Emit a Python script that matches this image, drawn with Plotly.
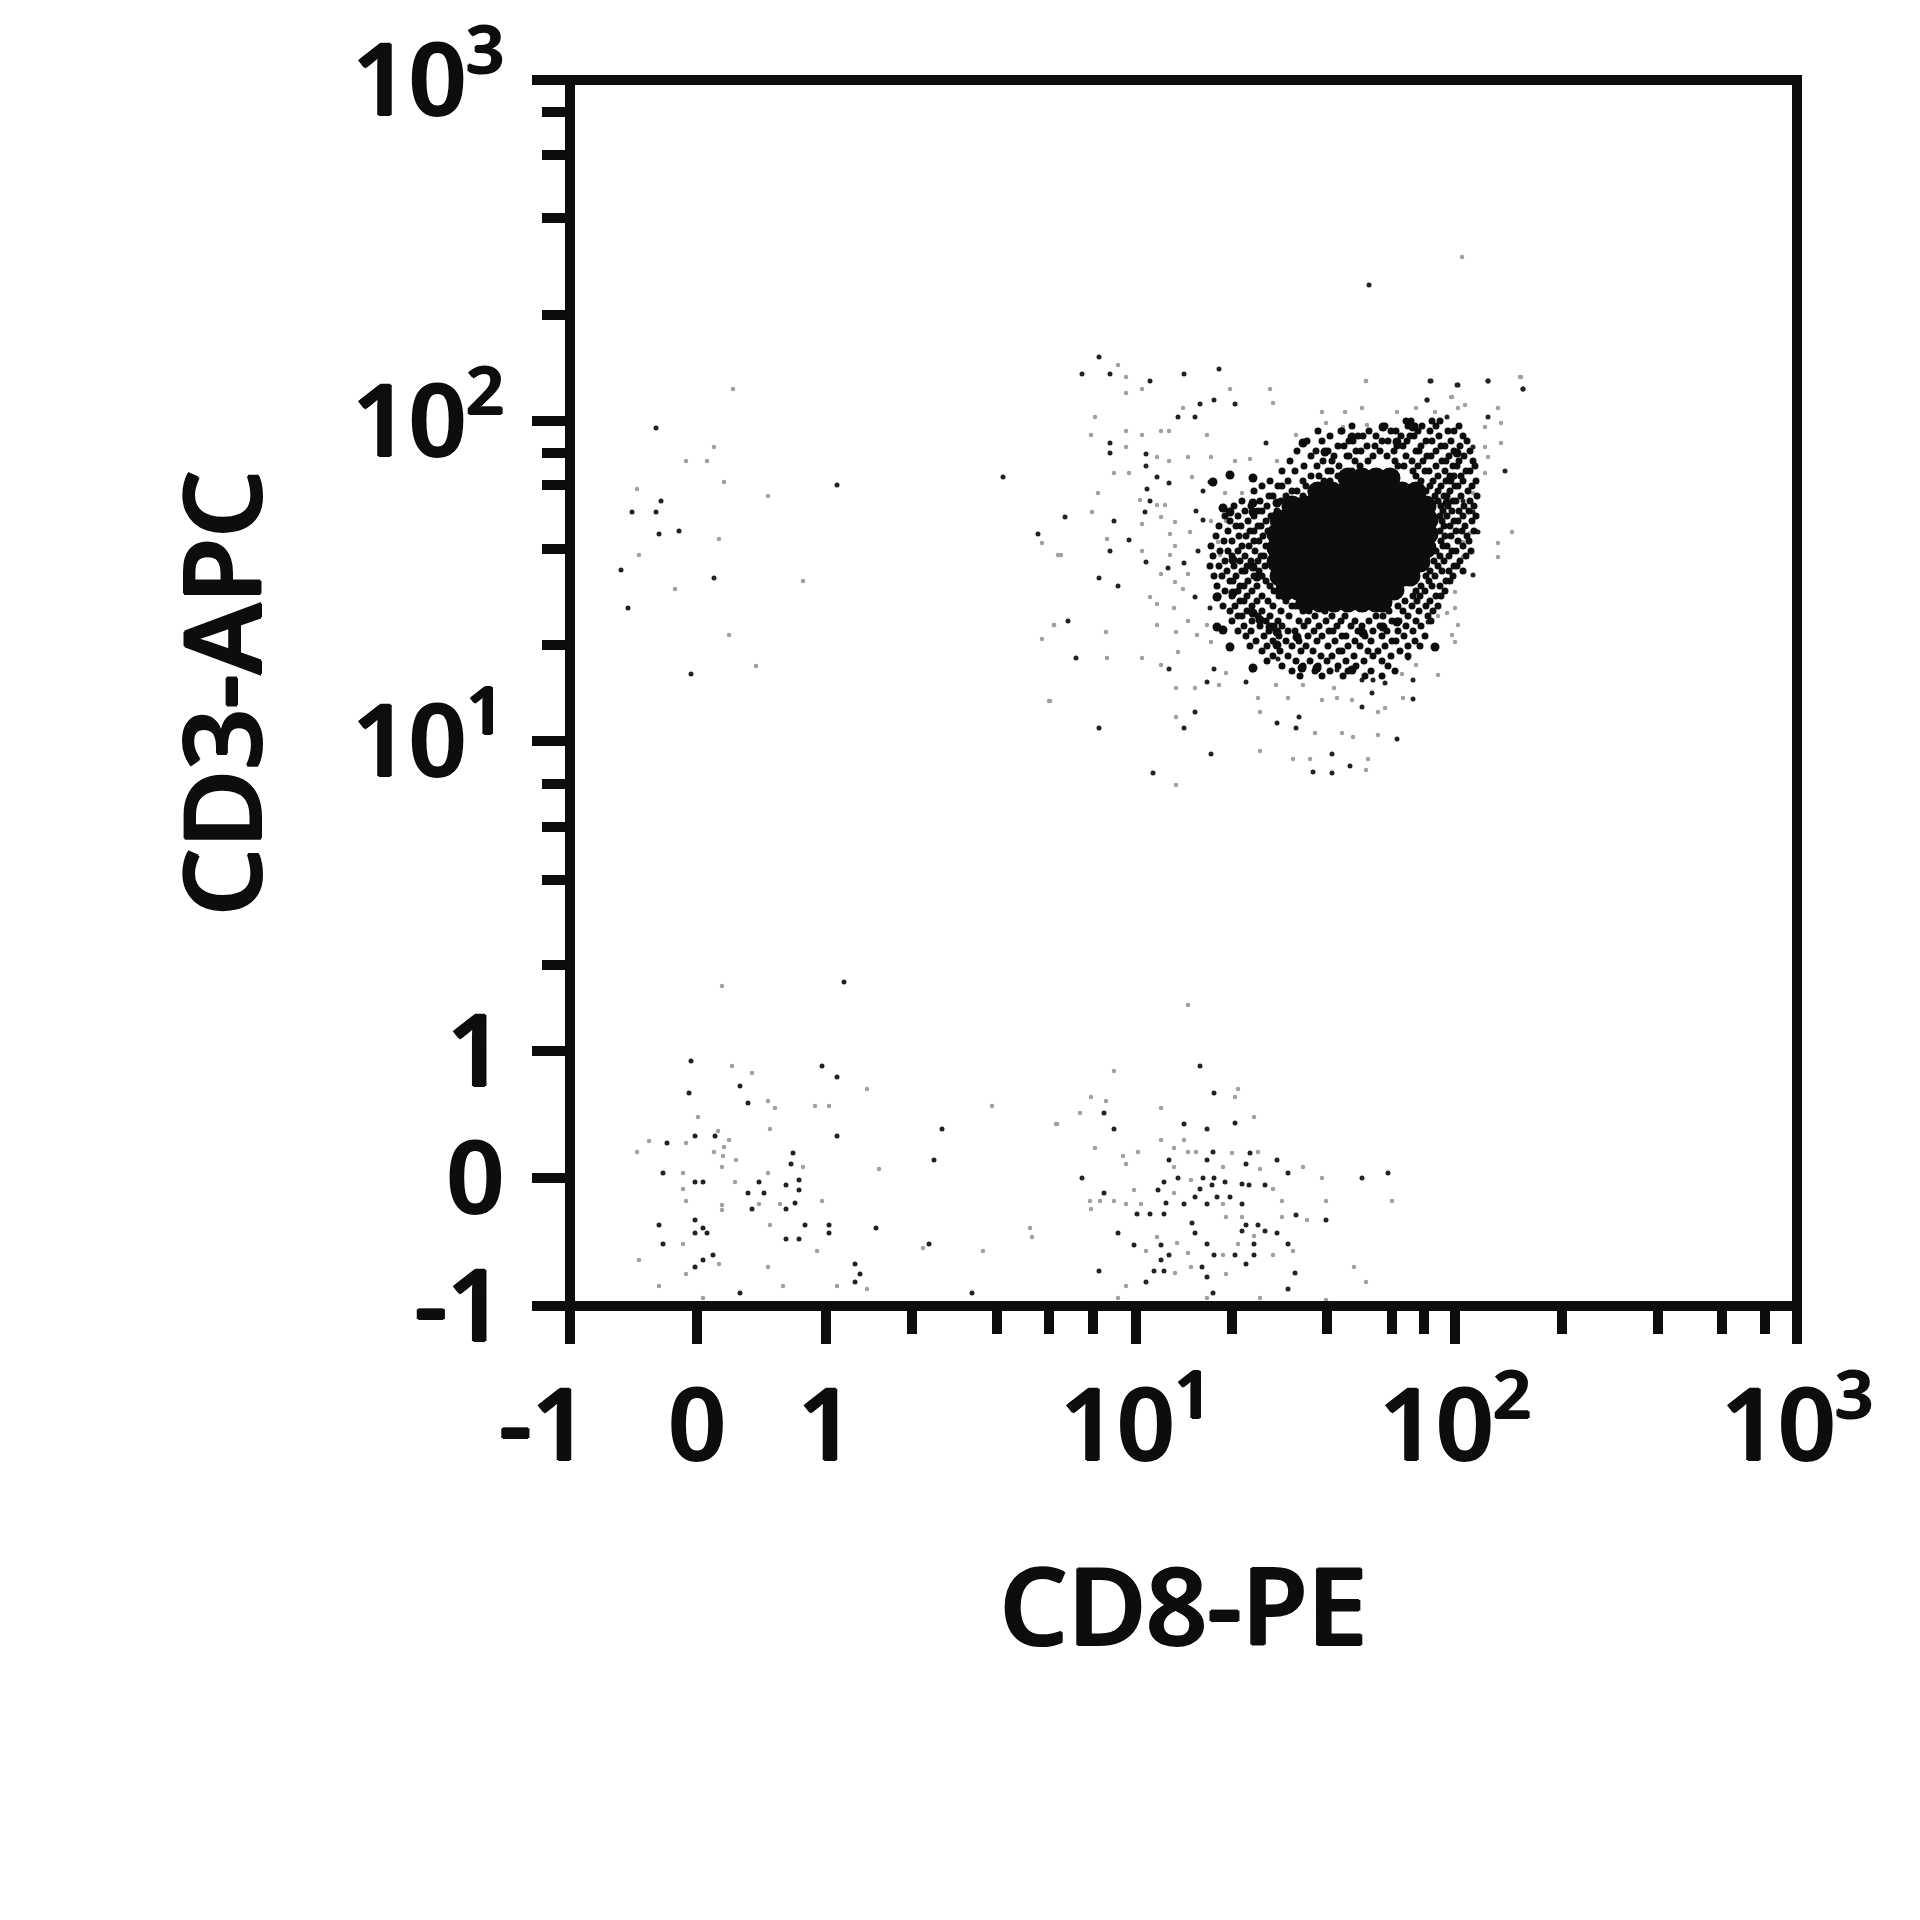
import plotly.graph_objects as go

INK = "#0d0d0d"
SUP = "<sup><span style='font-size:66px'>%s</span></sup>"
# Both axes are read as display channels (biexponential scale): -1 sits at channel 0, 10^3 at the far end.
x_major_channels = [0, 127, 256, 566, 885, 1227]
x_major_labels = ["-1\u00a0\u00a0", "0", "1", "10" + SUP % "1", "10" + SUP % "2", "10" + SUP % "3"]
x_minor_channels = [342, 427, 479, 523, 662, 757, 822, 854, 992, 1088, 1152, 1195]
y_major_channels = [0, 128, 255, 565, 885, 1226]
y_major_labels = ["-1", "0", "1", "10" + SUP % "1", "10" + SUP % "2", "10" + SUP % "3"]
y_minor_channels = [341, 426, 479, 522, 661, 757, 821, 853, 991, 1088, 1151, 1194]

dark_events = [
 (86,878),(91,805),(62,794),(86,794),(89,772),(109,775),(51,736),(144,728),(58,698),(121,632),(267,821),(433,829),(468,772),
 (274,324),(121,245),(252,240),(267,229),(170,220),(119,213),(178,203),(145,170),(125,170),(267,170),(97,163),(372,177),(364,146),
 (223,153),(221,142),(93,133),(125,124),(133,124),(229,126),(216,121),(229,116),(189,124),(178,113),(194,113),(182,97),(216,97),
 (225,103),(89,81),(125,86),(125,73),(137,73),(133,78),(235,81),(259,81),(259,73),(306,78),(93,62),(216,67),(229,67),(359,62),
 (143,51),(133,46),(125,39),(285,42),(290,32),(285,24),(170,13),(402,13),
 (630,240),(644,213),(614,182),(637,177),(665,183),(544,177),(534,193),(599,146),(637,146),(643,154),(680,153),(707,146),(718,133),
 (676,142),(512,128),(608,128),(594,124),(633,128),(644,128),(642,121),(655,124),(672,122),(679,121),(695,121),(792,128),(818,133),
 (534,113),(588,116),(630,117),(625,109),(647,109),(660,109),(596,103),(614,102),(637,102),(672,102),(567,92),(580,92),(594,92),
 (726,91),(756,86),(676,81),(688,81),(672,75),(695,75),(707,73),(718,62),(548,73),(625,73),(622,83),(564,61),(591,61),(637,62),
 (684,62),(599,51),(644,51),(665,51),(684,51),(591,46),(676,42),(632,39),(584,35),(594,35),(529,35),(637,29),(576,24),(725,33),
 (718,17),(643,13),
 (799,1021),(860,925),(888,921),(918,925),(953,917),(857,906),
 (529,949),(649,937),(614,932),(580,925),(540,932),(512,932),(630,902),(644,906),(665,902),(625,889),(608,889),(540,863),(540,853),
 (576,852),(576,840),(587,829),(599,823),(577,817),(580,805),(575,794),(626,795),(633,786),(640,824),(633,815),(660,830),(684,827),
 (696,863),(734,862),(495,789),(544,785),(559,766),(540,755),(576,744),(614,743),(628,755),(598,738),(529,728),(548,720),(498,685),
 (506,648),(599,637),(644,637),(637,624),(529,578),(614,578),(625,594),(641,552),(583,533),(625,709),(640,698),(652,675),(660,661),
 (682,636),(676,624),(708,647),(708,661),(733,638),(746,638),(767,636),(792,626),(803,626),(815,623),(802,613),(792,599),(865,659),
 (838,648),(827,567),(707,583),(726,578),(729,589),(762,552),(780,540),(743,534),(762,533),(858,684),(903,731),(903,794),(893,805),
 (935,835),(903,859),(918,889),(877,889),(861,925),(887,921),(918,925),(953,917),(857,906),(908,774),(843,626),(843,607),
]
light_events = [
 (163,917),(144,859),(116,845),(137,845),(154,824),(67,817),(198,810),(149,767),(69,751),(233,725),(105,717),(159,671),(186,640),
 (472,763),(484,681),(472,667),(479,605),(488,751),
 (152,320),(162,240),(182,233),(297,217),(198,205),(205,198),(245,200),(259,200),(422,200),(487,182),(128,189),(200,177),(79,165),
 (116,163),(159,166),(148,175),(67,154),(144,154),(154,159),(153,150),(166,146),(152,139),(233,139),(309,137),(113,133),(198,133),
 (165,124),(113,117),(116,105),(152,101),(152,96),(252,105),(189,102),(210,102),(200,81),(113,62),(247,55),(353,58),(413,55),
 (460,78),(462,69),(69,46),(149,42),(116,32),(198,39),(89,20),(213,20),(267,20),(297,17),(133,8),
 (618,301),(544,235),(668,217),(665,209),(521,209),(536,205),(591,198),(510,193),(486,182),(684,189),(591,166),(614,166),(525,158),
 (604,158),(553,150),(568,154),(618,154),(626,154),(662,153),(688,154),(556,142),(604,139),(653,139),(690,137),(733,139),(752,128),
 (621,126),(564,116),(604,113),(703,117),(520,105),(530,105),(544,105),(521,97),(556,102),(571,102),(653,102),(712,105),(756,105),
 (822,105),(656,89),(672,89),(712,89),(737,86),(587,69),(607,63),(684,70),(668,62),(576,55),(618,53),(653,51),(703,51),(723,55),
 (621,39),(605,33),(656,32),(784,39),(796,24),(556,20),(548,8),(637,8),(690,8),(756,6),
 (892,1049),(796,925),(951,929),(881,909),
 (548,941),(556,929),(556,913),(572,917),(525,889),(613,898),(660,917),(700,917),(703,903),(521,871),(556,875),(572,871),(591,875),
 (599,875),(637,871),(556,859),(587,849),(599,845),(618,849),(641,849),(665,845),(680,847),(707,845),(544,833),(559,833),(622,829),
 (528,813),(570,806),(595,801),(587,801),(655,813),(672,813),(522,794),(591,789),(572,782),(605,784),(600,772),(620,774),(641,785),
 (656,785),(537,767),(572,755),(605,760),(491,751),(600,751),(648,764),(650,751),(591,732),(618,732),(605,724),(613,717),(580,709),
 (587,702),(604,698),(587,681),(618,685),(637,681),(536,674),(606,674),(627,671),(641,664),(484,681),(537,648),(572,648),(608,654),
 (591,641),(656,633),(606,618),(625,618),(649,621),(706,621),(733,621),(764,618),(688,608),(718,608),(752,606),(767,608),(782,606),
 (833,608),(690,594),(606,589),(745,573),(772,573),(783,569),(808,571),(815,598),(808,594),(690,555),(723,547),(740,547),(798,547),
 (796,536),(606,521),(480,605),(868,631),(832,632),(846,641),(885,664),(888,681),(882,671),(885,698),(868,690),(877,693),(885,714),
 (928,763),(928,749),(942,774),(893,764),(893,749),(900,773),(903,813),(915,833),(915,859),(918,849),(931,863),(931,883),(928,898),
 (915,879),(950,929),(882,909),(895,901),(888,898),(846,898),(865,894),(827,894),(792,898),(796,925),(775,894),(752,894),(756,883),
 (797,881),(773,879),(726,871),
]
clump_events = [
 (733,863),(660,831),(683,828),(643,824),(660,794),(653,798),(683,794),(647,709),(653,676),(660,659),(683,638),(732,638),(747,638),
 (707,674),(727,669),(707,661),(782,636),(793,673),(813,679),(827,684),(880,826),(887,853),(877,803),(865,659),(827,864),(813,879),
 (782,869),(755,854),(687,729),(683,739),(663,746),(663,713),(683,693),(647,679),(690,686),(700,679),(683,803),(707,803),(843,879),
]
fringe_y = list(range(885, 625, -5))
fringe_x = [
 [836,841,862,870],
 [782,815,838,845,852,866,889],
 [748,771,772,799,821,826,848,860,878,884],
 [760,788,793,806,831,840,844,869,893],
 [737,752,779,783,812,818,837,856,862,881,897],
 [768,774,797,805,827,833,851,871,875,890],
 [727,746,758,786,791,810,824,846,849,866,884,900],
 [741,764,777,779,803,817,836,857,861,879,894],
 [720,753,762,785,798,825,842,853,872,876,889,903],
 [734,747,769,790,828,834,848,866,883,887,905],
 [712,725,758,761,782,843,855,859,875,896,900],
 [741,749,768,772,846,868,880,884,891],
 [700,718,733,754,760,851,863,876,893,906],
 [692,708,712,736,745,860,871,885,888,902],
 [684,722,727,741,856,868,880,898],
 [699,703,716,733,865,874,877,891,907],
 [672,690,711,725,729,868,883,886,900],
 [664,681,697,719,871,878,894,904],
 [675,688,692,707,873,882,889,899],
 [655,668,684,701,705,870,877,893,906],
 [660,678,696,872,884,888,902],
 [649,666,671,688,691,874,880,895],
 [658,680,684,698,870,886,892,904],
 [646,669,676,693,875,881,897],
 [654,662,684,689,871,888,899],
 [641,672,679,696,873,877,893],
 [650,658,668,685,866,882,886,901],
 [643,662,675,691,694,870,879,896],
 [655,670,681,688,864,874,890],
 [640,649,664,677,695,868,884,887],
 [657,672,675,689,860,872,879,893],
 [644,652,666,684,692,856,865,883],
 [660,663,678,696,859,876,880],
 [647,670,674,687,700,851,862,870],
 [655,668,682,704,846,855,875],
 [648,662,677,692,709,843,850,866,871],
 [670,674,687,698,716,835,847,860],
 [653,665,682,703,722,726,828,842,856,868],
 [660,677,692,711,733,739,755,819,833,849,863],
 [668,672,688,700,719,745,762,775,806,813,838,858],
 [662,682,696,708,729,738,756,771,785,799,822,829,846,861],
 [674,690,704,712,734,749,767,781,792,810,836,851],
 [668,681,699,718,725,744,759,763,788,803,817,828,843],
 [676,694,709,738,752,772,776,795,812,834,855],
 [686,703,716,729,747,765,785,801,822,826,845],
 [680,697,722,736,758,778,790,815,838,850],
 [692,710,731,743,769,772,798,808,830],
 [703,718,751,762,784,803,821,838],
 [697,726,740,757,776,794,812],
 [712,733,748,768,786,818],
 [722,745,760,778,801,825],
 [730,752,773,795,812],
]
core_y = [828,814,800,786,772,758,744,730,716,704]
core_x = [
 [778,792,806,820],
 [748,762,776,790,804,818,832,846],
 [722,736,750,764,778,792,806,820,834,848,856],
 [710,724,738,752,766,780,794,808,822,836,850,858],
 [707,721,735,749,763,777,791,805,819,833,847,858],
 [707,720,734,748,762,776,790,804,818,832,846,856],
 [707,720,734,748,762,776,790,804,818,832,846,850],
 [710,722,736,750,764,778,792,806,820,834,840],
 [716,728,742,756,770,784,798,812,824],
 [736,750,764,778,792,806,812],
]

def flat(ys, xs):
    px, py = [], []
    for yy, row in zip(ys, xs):
        for xx in row:
            px.append(xx); py.append(yy)
    return px, py

fig = go.Figure()
fig.add_trace(go.Scatter(x=[p[0] for p in light_events], y=[p[1] for p in light_events], mode="markers",
                         marker=dict(size=4.5, color="#a0a0a0", line_width=0), name="sparse, faint"))
fig.add_trace(go.Scatter(x=[p[0] for p in dark_events], y=[p[1] for p in dark_events], mode="markers",
                         marker=dict(size=5, color="#222222", line_width=0), name="sparse"))
fx, fy = flat(fringe_y, fringe_x)
fig.add_trace(go.Scatter(x=fx, y=fy, mode="markers", marker=dict(size=7, color=INK, line_width=0), name="fringe"))
fig.add_trace(go.Scatter(x=[p[0] for p in clump_events], y=[p[1] for p in clump_events], mode="markers",
                         marker=dict(size=9, color=INK, line_width=0), name="clumps"))
cx, cy = flat(core_y, core_x)
fig.add_trace(go.Scatter(x=cx, y=cy, mode="markers", marker=dict(size=21, color=INK, line_width=0), name="core"))

HEAVY = "1.5px 0 0 #0d0d0d, -1.5px 0 0 #0d0d0d, 0 1px 0 #0d0d0d, 0 -1px 0 #0d0d0d"
font = dict(family="Open Sans", size=100, color=INK, weight=600, shadow=HEAVY)
title_font = dict(family="Open Sans", size=107, color=INK, weight=600, shadow=HEAVY)
axis = dict(showline=False, showgrid=False, zeroline=False, automargin=False,
            ticks="outside", ticklen=37, tickwidth=10, tickcolor=INK, tickfont=font, tickmode="array", tickangle=0)
minor = dict(ticks="outside", ticklen=27, tickwidth=10, tickcolor=INK, showgrid=False)

fig.update_layout(
    width=1920, height=1920, autosize=False, showlegend=False,
    margin=dict(l=570, r=123, t=80, b=614, pad=0),
    paper_bgcolor="white", plot_bgcolor="white",
    shapes=[dict(type="rect", xref="paper", yref="paper", x0=0, x1=1, y0=0, y1=1,
                 line=dict(color=INK, width=10), fillcolor="rgba(0,0,0,0)", layer="above")],
    xaxis=dict(axis, range=[0, 1227], tickvals=x_major_channels, ticktext=x_major_labels, ticklabelstandoff=-4,
               minor=dict(minor, tickvals=x_minor_channels),
               title=dict(text="CD8-PE", font=title_font, standoff=82)),
    yaxis=dict(axis, range=[0, 1226], tickvals=y_major_channels, ticktext=y_major_labels, ticklabelstandoff=8,
               minor=dict(minor, tickvals=y_minor_channels),
               title=dict(text="CD3-APC", font=title_font, standoff=54)),
)
fig.write_html("out.html", config=dict(displayModeBar=False), post_script="document.body.style.margin='0';")
